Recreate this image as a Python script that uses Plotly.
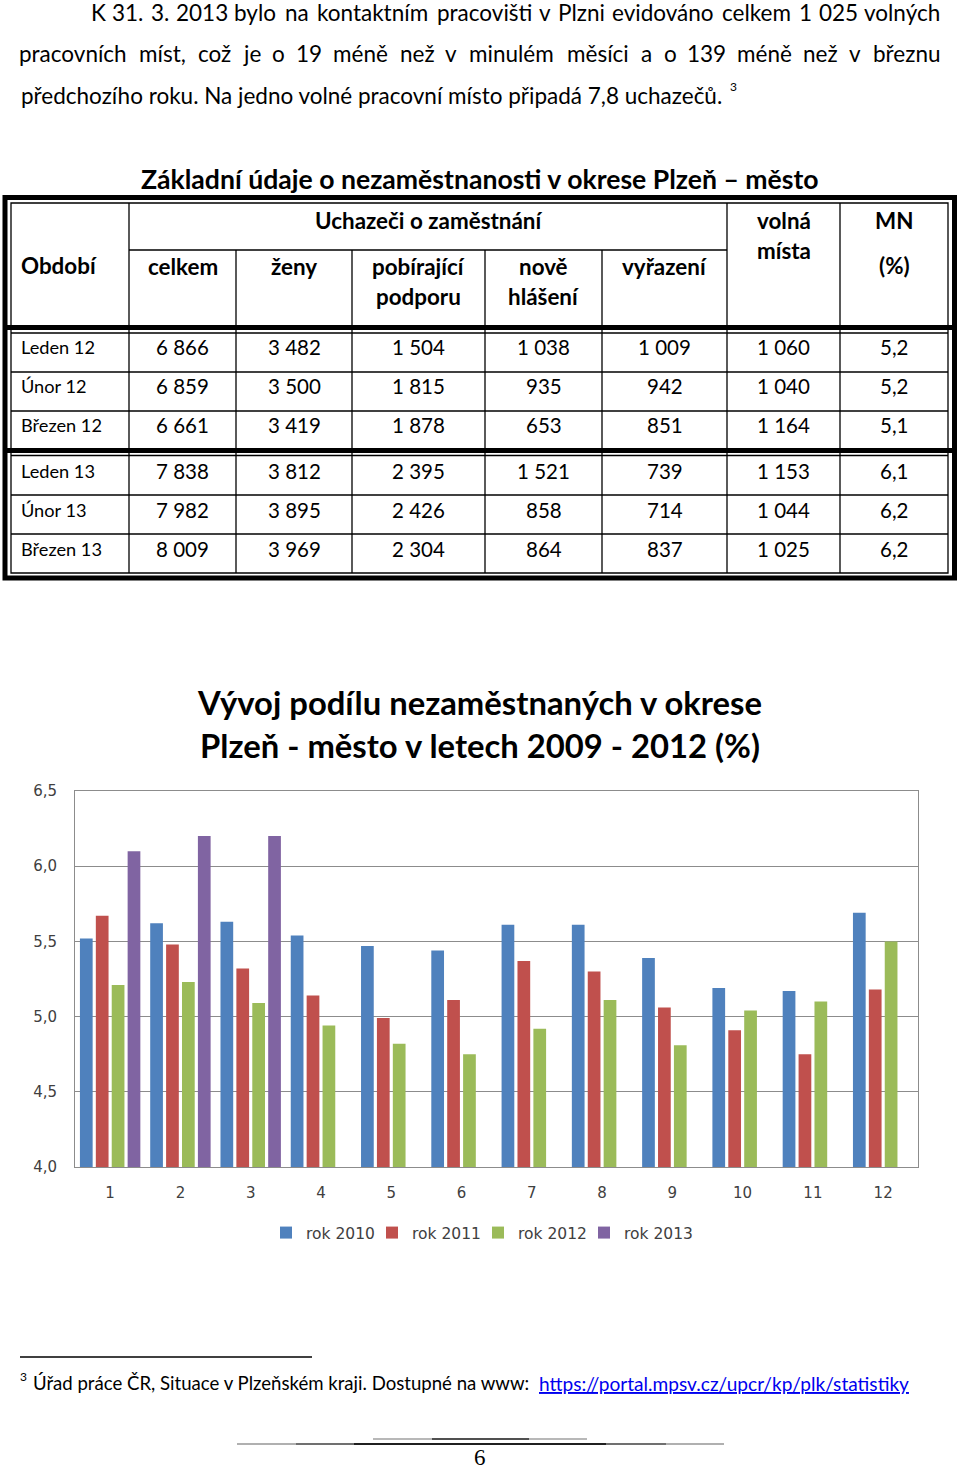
import unicodedata
import plotly.graph_objects as go

W, H = 960, 1471

# ---------------- data ----------------
months = list(range(1, 13))
rok2010 = [5.52, 5.62, 5.63, 5.54, 5.47, 5.44, 5.61, 5.61, 5.39, 5.19, 5.17, 5.69]
rok2011 = [5.67, 5.48, 5.32, 5.14, 4.99, 5.11, 5.37, 5.30, 5.06, 4.91, 4.75, 5.18]
rok2012 = [5.21, 5.23, 5.09, 4.94, 4.82, 4.75, 4.92, 5.11, 4.81, 5.04, 5.10, 5.50]
rok2013 = [6.1, 6.2, 6.2, None, None, None, None, None, None, None, None, None]
series_names = ["rok 2010", "rok 2011", "rok 2012", "rok 2013"]
series_colors = ["#4F81BD", "#C0504D", "#9BBB59", "#8064A2"]
y_ticks = [4.0, 4.5, 5.0, 5.5, 6.0, 6.5]

table_periods = ["Leden 12", "Únor 12", "Březen 12", "Leden 13", "Únor 13", "Březen 13"]
celkem = [6866, 6859, 6661, 7838, 7982, 8009]
zeny = [3482, 3500, 3419, 3812, 3895, 3969]
pobirajici = [1504, 1815, 1878, 2395, 2426, 2304]
nove_hlaseni = [1038, 935, 653, 1521, 858, 864]
vyrazeni = [1009, 942, 851, 739, 714, 837]
volna_mista = [1060, 1040, 1164, 1153, 1044, 1025]
mn_pct = [5.2, 5.2, 5.1, 6.1, 6.2, 6.2]

para_lines = [
    "K 31. 3. 2013 bylo na kontaktním pracovišti v Plzni evidováno celkem 1 025 volných",
    "pracovních míst, což je o 19 méně než v minulém měsíci a o 139 méně než v březnu",
    "předchozího roku. Na jedno volné pracovní místo připadá 7,8 uchazečů.",
]
table_title = "Základní údaje o nezaměstnanosti v okrese Plzeň – město"
chart_title = "Vývoj podílu nezaměstnaných v okrese<br>Plzeň - město v letech 2009 - 2012 (%)"
footnote_text = "Úřad práce ČR, Situace v Plzeňském kraji. Dostupné na www: "
footnote_link = "https://portal.mpsv.cz/upcr/kp/plk/statistiky"

# ---------------- helpers ----------------
FONT = "Lato"
AXFONT = "DejaVu Sans"

CAL = {'a': .479, 'b': .525, 'c': .423, 'd': .525, 'e': .498, 'f': .305, 'g': .471, 'h': .525,
       'i': .229, 'j': .239, 'k': .455, 'l': .229, 'm': .799, 'n': .525, 'o': .527, 'p': .525,
       'q': .525, 'r': .349, 's': .391, 't': .335, 'u': .525, 'v': .452, 'w': .715, 'x': .433,
       'y': .453, 'z': .395, 'K': .520, 'P': .517, 'N': .646, ' ': .226, ',': .250, '.': .252}


def cal_w(s):
    t = 0
    for ch in s:
        b = unicodedata.normalize("NFD", ch)[0]
        t += .507 if b.isdigit() else CAL.get(b, .5)
    return t


def fmt_int(v):
    return f"{v:,}".replace(",", " ")


def fmt_dec(v):
    return f"{v:.1f}".replace(".", ",")


fig = go.Figure()

for k, (name, vals, col) in enumerate(zip(series_names, [rok2010, rok2011, rok2012, rok2013], series_colors)):
    fig.add_trace(go.Bar(x=months, y=vals, name=name, marker=dict(color=col, line=dict(width=0)),
                         legendwidth=(80 if k == len(series_names) - 1 else None)))

# page-level pixel coordinate system
fig.add_trace(go.Scatter(x=[None], y=[None], xaxis="x2", yaxis="y2", showlegend=False, hoverinfo="skip"))


def txt(x, y, s, size, bold=False, anchor="center", color="#000000", family=FONT):
    fig.add_annotation(x=x, y=y, xref="x2", yref="y2", text=(f"<b>{s}</b>" if bold else s),
                       showarrow=False, xanchor=anchor, yanchor="middle",
                       font=dict(family=family, size=size, color=color))


def line(x0, y0, x1, y1, w=1, color="#000000"):
    fig.add_shape(type="line", x0=x0, y0=y0, x1=x1, y1=y1, xref="x2", yref="y2",
                  line=dict(color=color, width=w))


# ---------------- paragraph ----------------
PSIZE = 22.5
CAL_SIZE = 24
para_y = [12, 53, 95]
for li, (x0, x1) in enumerate([(92, 940), (20, 940)]):
    words = para_lines[li].split(" ")
    ws = [cal_w(w) * CAL_SIZE for w in words]
    gap = (x1 - x0 - sum(ws)) / (len(words) - 1)
    cx = x0
    for w, wd in zip(words, ws):
        txt(cx + wd / 2, para_y[li], w, PSIZE)
        cx += wd + gap
txt(19, para_y[2], para_lines[2], PSIZE, anchor="left")
txt(733, 86, "3", 12)

# ---------------- table ----------------
txt(480, 179, table_title, 26.6, bold=True)
cols = [11, 129, 236, 352, 485, 602, 727, 840, 948]
# outer double frame
fig.add_shape(type="rect", x0=5, y0=197.5, x1=954.5, y1=578, xref="x2", yref="y2",
              line=dict(color="#000000", width=5))
fig.add_shape(type="rect", x0=11, y0=203, x1=948, y1=573, xref="x2", yref="y2",
              line=dict(color="#000000", width=1.3))
line(129, 250, 727, 250, 1.3)
for c in [129, 727, 840]:
    line(c, 203, c, 573, 1.3)
for c in [236, 352, 485, 602]:
    line(c, 250, c, 573, 1.3)
row_lines = [372, 411, 495, 534]
for r in row_lines:
    line(11, r, 948, r, 1.3)
for yt, yn in [(327.5, 333), (450.5, 455.5)]:
    line(7, yt, 952, yt, 5)
    line(11, yn, 948, yn, 1.3)

HS = 22.4
txt(19, 265, "Období", HS, bold=True, anchor="left")
txt(428, 220, "Uchazeči o zaměstnání", HS, bold=True)
txt(182.5, 266, "celkem", HS, bold=True)
txt(294, 266, "ženy", HS, bold=True)
txt(418.5, 266, "pobírající", HS, bold=True)
txt(418.5, 296, "podporu", HS, bold=True)
txt(543.5, 266, "nově", HS, bold=True)
txt(543.5, 296, "hlášení", HS, bold=True)
txt(664.5, 266, "vyřazení", HS, bold=True)
txt(783.5, 220, "volná", HS, bold=True)
txt(783.5, 250, "místa", HS, bold=True)
txt(894, 220, "MN", HS, bold=True)
txt(894, 265, "(%)", HS, bold=True)

row_y = [347, 386, 425, 471, 510, 549]
col_centers = [(cols[i] + cols[i + 1]) / 2 for i in range(1, 8)]
for i, p in enumerate(table_periods):
    txt(19, row_y[i], p, 18.2, anchor="left")
    vals = [fmt_int(celkem[i]), fmt_int(zeny[i]), fmt_int(pobirajici[i]), fmt_int(nove_hlaseni[i]),
            fmt_int(vyrazeni[i]), fmt_int(volna_mista[i]), fmt_dec(mn_pct[i])]
    for cx, v in zip(col_centers, vals):
        txt(cx, row_y[i], v, 20.5)

# ---------------- chart title ----------------
txt(479, 724, chart_title, 32.8, bold=True)

# ---------------- footnote ----------------
line(20, 1357, 312, 1357, 1.5)
txt(23, 1376, "3", 12)
txt(31, 1383, footnote_text, 18.6, anchor="left")
txt(537, 1383, f"<u>{footnote_link}</u>", 19.1, anchor="left", color="#0000EE")

# ---------------- page number ----------------
line(237, 1444, 724, 1444, 2, "#b0b0b0")
line(296, 1444, 666, 1444, 2, "#707070")
line(354, 1444, 606, 1444, 2, "#202020")
line(373, 1439, 587, 1439, 2, "#b8b8b8")
line(432, 1439, 529, 1439, 2, "#505050")
txt(480, 1457, "6", 23, family="Liberation Serif")

# ---------------- layout ----------------
fig.update_layout(
    width=W, height=H,
    margin=dict(l=0, r=0, t=0, b=0, autoexpand=False),
    paper_bgcolor="white", plot_bgcolor="rgba(0,0,0,0)",
    separators=", ",
    barmode="group", bargap=0.095, bargroupgap=0.2,
    showlegend=True,
    legend=dict(orientation="h", x=266 / W, xanchor="left", y=1 - 1233 / H, yanchor="middle",
                entrywidth=61, entrywidthmode="pixels",
                font=dict(family=AXFONT, size=15.5, color="#404040"), bgcolor="rgba(0,0,0,0)"),
    xaxis=dict(domain=[75 / W, 918.3 / W], range=[0.5, 12.5], tickvals=months,
               ticktext=[str(m) for m in months], showgrid=False, showline=True,
               linecolor="#8c8c8c", linewidth=1, mirror=True, ticks="", zeroline=False,
               tickfont=dict(family=AXFONT, size=15, color="#404040"), ticklabelstandoff=12,
               anchor="y", fixedrange=True),
    yaxis=dict(domain=[1 - 1167 / H, 1 - 791 / H], range=[4, 6.5], tickvals=y_ticks,
               tickformat=".1f", showgrid=True, gridcolor="#8c8c8c", gridwidth=1,
               showline=True, linecolor="#8c8c8c", linewidth=1, mirror=True, ticks="",
               zeroline=False, tickfont=dict(family=AXFONT, size=15, color="#404040"),
               ticklabelstandoff=14, anchor="x", fixedrange=True),
    xaxis2=dict(domain=[0, 1], range=[0, W], visible=False, anchor="y2", fixedrange=True),
    yaxis2=dict(domain=[0, 1], range=[H, 0], visible=False, anchor="x2", fixedrange=True),
)

fig.write_html("out.html")
